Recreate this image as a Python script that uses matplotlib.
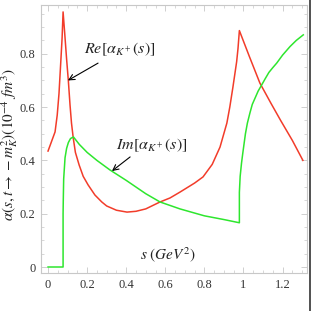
import matplotlib
matplotlib.use("Agg")
import matplotlib.pyplot as plt
from matplotlib.ticker import MultipleLocator
from matplotlib.lines import Line2D

plt.rcParams['mathtext.fontset'] = 'stix'
plt.rcParams['font.family'] = ['Liberation Serif', 'DejaVu Serif']

# Re[alpha_K+(s)]
s_re = [0.0, 0.015, 0.036, 0.047, 0.056, 0.066, 0.072, 0.077,
        0.085, 0.095, 0.104, 0.1125, 0.12, 0.129, 0.14, 0.159,
        0.18, 0.205, 0.24, 0.275,
        0.3, 0.35, 0.404, 0.45, 0.5, 0.573, 0.624, 0.675, 0.75, 0.793,
        0.84, 0.88, 0.915, 0.93, 0.946, 0.955, 0.965, 0.972, 0.979,
        1.03, 1.084, 1.14, 1.19, 1.25, 1.304]
re_vals = [0.435, 0.465, 0.507, 0.57, 0.65, 0.78, 0.86, 0.957,
           0.88, 0.78, 0.698, 0.608, 0.54, 0.484, 0.43, 0.383,
           0.34, 0.308, 0.27, 0.244,
           0.229, 0.213, 0.206, 0.209, 0.218, 0.244, 0.259, 0.281, 0.315, 0.338,
           0.385, 0.45, 0.54, 0.60, 0.675, 0.72, 0.77, 0.82, 0.887,
           0.79, 0.69, 0.615, 0.55, 0.475, 0.40]

# Im[alpha_K+(s)]
s_im = [0.0, 0.077, 0.077, 0.078, 0.08, 0.087, 0.095, 0.104, 0.115, 0.13,
        0.16, 0.2, 0.25, 0.317, 0.4, 0.5, 0.573, 0.675, 0.8, 0.9, 0.979,
        0.979, 0.983, 0.99, 0.997, 1.01, 1.02, 1.033, 1.045, 1.06, 1.075,
        1.093, 1.11, 1.13, 1.15, 1.17, 1.2, 1.238, 1.27, 1.306]
im_vals = [0.0, 0.0, 0.20, 0.25, 0.33, 0.41, 0.445, 0.467, 0.482, 0.488,
           0.46, 0.43, 0.40, 0.364, 0.325, 0.275, 0.244, 0.218, 0.192, 0.178, 0.166,
           0.28, 0.34, 0.39, 0.43, 0.50, 0.54, 0.578, 0.61, 0.635, 0.66,
           0.683, 0.705, 0.73, 0.748, 0.765, 0.795, 0.827, 0.85, 0.871]

W, H = 311, 311
fig = plt.figure(figsize=(W / 100, H / 100), dpi=100)
ax = fig.add_axes([41 / W, 1 - 273 / H, (307 - 41) / W, (273 - 5) / H])

ax.plot(s_re, re_vals, color='#f23c2a', lw=1.1)
ax.plot(s_im, im_vals, color='#2ee62e', lw=1.1)

ax.set_xlim(-0.036, 1.325)
ax.set_ylim(-0.0225, 0.983)

ax.xaxis.set_minor_locator(MultipleLocator(0.05))
ax.yaxis.set_minor_locator(MultipleLocator(0.05))
ax.set_xticks([0, 0.2, 0.4, 0.6, 0.8, 1.0, 1.2])
ax.set_xticklabels(['0', '0.2', '0.4', '0.6', '0.8', '1', '1.2'])
ax.set_yticks([0, 0.2, 0.4, 0.6, 0.8])
ax.set_yticklabels(['0', '0.2', '0.4', '0.6', '0.8'])

for sp in ax.spines.values():
    sp.set_color('#c8c8c8')
    sp.set_linewidth(0.8)
ax.tick_params(which='both', direction='in', top=True, right=True,
               color='#c8c8c8', labelcolor='#333333', labelsize=9)
ax.tick_params(which='major', length=4, width=0.6, pad=4)
ax.tick_params(which='minor', length=2.2, width=0.5)

ax.set_ylabel(r'$\alpha(s,t\rightarrow -m_K^2)(10^{-4}\ fm^3)$', fontsize=11,
              color='#222222')
ax.yaxis.set_label_coords(-0.08, 0.48)

ax.text(0.615, 0.010, r'$s\ (GeV^2)$', fontsize=11, ha='center', va='bottom',
        color='#222222')

ax.text(0.368, 0.818, r'$Re[\alpha_{K^+}(s)]$', fontsize=11.5, ha='center',
        va='center', color='#222222')
ax.annotate('', xy=(0.102, 0.70), xytext=(0.256, 0.765),
            arrowprops=dict(arrowstyle='->', color='black', lw=0.8,
                            shrinkA=0, shrinkB=0))
ax.text(0.532, 0.458, r'$Im[\alpha_{K^+}(s)]$', fontsize=11.5, ha='center',
        va='center', color='#222222')
ax.annotate('', xy=(0.327, 0.36), xytext=(0.42, 0.413),
            arrowprops=dict(arrowstyle='->', color='black', lw=0.8,
                            shrinkA=0, shrinkB=0))

fig.add_artist(Line2D([309.5 / W, 309.5 / W], [0.0, 1.0], color='#333333',
                      lw=1.2, transform=fig.transFigure))

fig.savefig('out.png', dpi=100)
